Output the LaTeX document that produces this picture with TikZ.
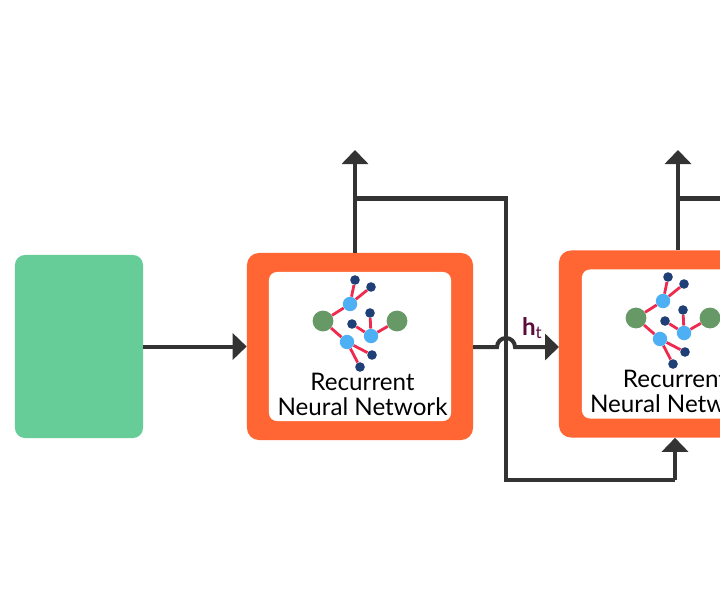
\documentclass[tikz,border=0pt]{standalone}
\usepackage{xcolor}
\usepackage{fontspec}
\setmainfont{Lato}
\usetikzlibrary{positioning, calc, arrows.meta}
\definecolor{inputgreen}{HTML}{66CD99}
\definecolor{rnnorange}{HTML}{FF6633}
\definecolor{wire}{HTML}{333333}
\definecolor{maroon}{HTML}{5C0A3C}
\definecolor{leafgreen}{HTML}{669966}
\definecolor{hubblue}{HTML}{4DB0F5}
\definecolor{tipblue}{HTML}{1F3F77}
\definecolor{linkred}{HTML}{EE2A4F}
\tikzstyle{inputbox} = [rectangle, rounded corners=0.25cm, minimum width=3.2cm, minimum height=4.575cm, fill=inputgreen]
\tikzstyle{rnnbox} = [rectangle, rounded corners=0.3cm, minimum width=5.65cm, minimum height=4.675cm, fill=rnnorange]
\tikzstyle{innerbox} = [rectangle, rounded corners=0.2cm, minimum width=4.55cm, minimum height=3.725cm, fill=white]
\tikzstyle{leaf} = [circle, inner sep=0pt, minimum size=0.52cm, fill=leafgreen]
\tikzstyle{hub} = [circle, inner sep=0pt, minimum size=0.36cm, fill=hubblue]
\tikzstyle{tip} = [circle, inner sep=0pt, minimum size=0.24cm, fill=tipblue]
\tikzstyle{link} = [line width=0.07cm, linkred]
\tikzstyle{arrow} = [line width=0.1cm, wire, ->, >={Triangle[length=0.35cm,width=0.65cm]}]
\tikzstyle{wireline} = [line width=0.1cm, wire]
\tikzstyle{every node}=[font=\fontsize{17.2pt}{17.8pt}\selectfont]

\begin{document}
\begin{tikzpicture}[x=0.025cm,y=0.025cm]
	\useasboundingbox (0,0) rectangle (720,600);
	\clip (0,0) rectangle (720,600);
	\fill [white] (0,0) rectangle (720,600);

	\node (input) [inputbox] at (79,253.5) {};
	\node (rnnA) [rnnbox] at (360,253.5) {};
	\node (innerA) [innerbox] at (360,253.5) {};
	\node (rnnB) [rnnbox] at (672,256) {};
	\node (innerB) [innerbox] at (673,256) {};

	% the small network inside each box
	\foreach \n/\dx/\dy in {A/0/0, B/313/3} {
		\begin{scope}[shift={(\dx,\dy)}]
			\node (leftleaf\n) [leaf] at (323,279) {};
			\node (rightleaf\n) [leaf] at (397,279) {};
			\node (hubtop\n) [hub] at (350,296) {};
			\node (hubmid\n) [hub] at (371,264) {};
			\node (hublow\n) [hub] at (347,258) {};
			\node (tipa\n) [tip] at (355,320) {};
			\node (tipb\n) [tip] at (371,313) {};
			\node (tipc\n) [tip] at (352,276) {};
			\node (tipd\n) [tip] at (370,287) {};
			\node (tipe\n) [tip] at (372,245) {};
			\node (tipf\n) [tip] at (360,233) {};
			\draw [link] (leftleaf\n) -- (hubtop\n);
			\draw [link] (leftleaf\n) -- (hublow\n);
			\draw [link] (hubtop\n) -- (tipa\n);
			\draw [link] (hubtop\n) -- (tipb\n);
			\draw [link] (hubmid\n) -- (tipc\n);
			\draw [link] (hubmid\n) -- (tipd\n);
			\draw [link] (hubmid\n) -- (rightleaf\n);
			\draw [link] (hublow\n) -- (tipe\n);
			\draw [link] (hublow\n) -- (tipf\n);
		\end{scope}
	}
	\node (labelA) [align=center] at (362.5,206) {Recurrent\\Neural Network};
	\node (labelB) [align=center] at (675,209) {Recurrent\\Neural Network};

	\coordinate (outA) at (355,450);
	\coordinate (forkA) at (355,401.5);
	\coordinate (turnA) at (506,401.5);
	\coordinate (turnB) at (506,120);
	\coordinate (turnC) at (675,120);
	\coordinate (outB) at (678,450);
	\coordinate (forkB) at (678,401.5);
	\coordinate (exitB) at (730,401.5);
	\coordinate (jumpL) at (497,253);
	\coordinate (rowB) at (559,253);
	\coordinate (rowA) at (473,253);

	\draw [arrow] (input.east) -- (rnnA.west);
	\draw [arrow] (outA |- rnnA.north) -- (outA);
	\draw [wireline] (forkA) -- (turnA) -- (turnB) -- (turnC);
	\draw [arrow] (turnC) -- (turnC |- rnnB.south);
	\draw [arrow] (rowA) -- (jumpL) arc[start angle=180,end angle=0,radius=9] -- node[above=0.35mm,xshift=-0.12cm,text=maroon] {\textbf{h}\textsubscript{t}}(rowB);
	\draw [arrow] (outB |- rnnB.north) -- (outB);
	\draw [wireline] (forkB) -- (exitB);
\end{tikzpicture}
\end{document}
